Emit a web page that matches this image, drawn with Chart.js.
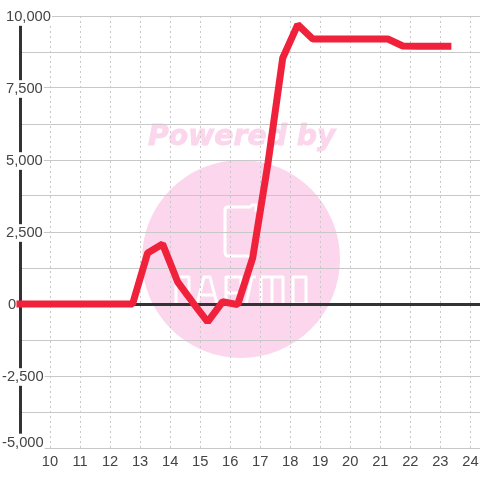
<!DOCTYPE html>
<html>
<head>
<meta charset="utf-8">
<style>
html, body { margin: 0; padding: 0; background: #fff; }
#wrap { width: 480px; height: 480px; }
canvas { display: block; }
</style>
<script src="https://cdn.jsdelivr.net/npm/chart.js@4/dist/chart.umd.min.js"></script>
</head>
<body>
<div id="wrap"><canvas id="myChart" width="480" height="480"></canvas></div>
<script>
var hours = [9, 9.75, 10.25, 10.75, 11.25, 11.75, 12.25, 12.75, 13.25, 13.75, 14.25, 14.75, 15.25, 15.75, 16.25, 16.75, 17.25, 17.75, 18.25, 18.75, 19.25, 19.75, 20.25, 20.75, 21.25, 21.75, 22.25, 22.75, 23.25];
var values = [0, 0, 0, 0, 0, 0, 0, 0, 1770, 2080, 770, 60, -620, 80, -20, 1600, 4830, 8540, 9700, 9200, 9200, 9200, 9200, 9200, 9200, 8960, 8950, 8950, 8950];
var yLabels = [10000, 7500, 5000, 2500, 0, -2500, -5000];

var points = [];
for (var i = 0; i < hours.length; i++) {
    points.push({x: hours[i], y: values[i]});
}

// pale logo behind the grid
var watermark = {
    id: 'watermark',
    beforeDraw: function(chart) {
        var c = chart.ctx;
        c.save();
        c.fillStyle = '#fbd6ec';
        c.strokeStyle = '#fbd6ec';
        c.lineWidth = 0.8;
        c.font = 'italic bold 28.3px "DejaVu Sans"';
        c.textBaseline = 'alphabetic';
        c.fillText('Powered by', 148, 145);
        c.strokeText('Powered by', 148, 145);
        c.beginPath();
        c.arc(241, 259, 99, 0, Math.PI * 2);
        c.fill();
        c.strokeStyle = '#fff';
        c.lineWidth = 3;
        c.lineJoin = 'round';
        c.beginPath();
        c.moveTo(251, 207);
        c.lineTo(228, 207);
        c.quadraticCurveTo(225, 207, 225, 210);
        c.lineTo(225, 252);
        c.quadraticCurveTo(225, 256, 228, 256);
        c.lineTo(253, 256);
        c.moveTo(251, 207);
        c.lineTo(252, 205);
        c.lineTo(256, 205);
        c.lineTo(256, 212);
        // n a p a m o
        c.moveTo(176, 304); c.lineTo(176, 277); c.lineTo(189, 277); c.lineTo(189, 304);
        c.moveTo(197, 304); c.lineTo(204, 277); c.lineTo(210, 277); c.lineTo(217, 304); c.moveTo(199, 295); c.lineTo(216, 295);
        c.moveTo(226, 304); c.lineTo(226, 277); c.lineTo(241, 277); c.lineTo(241, 293); c.lineTo(226, 293);
        c.moveTo(246, 304); c.lineTo(252, 277); c.lineTo(256, 277);
        c.moveTo(261, 304); c.lineTo(261, 277); c.lineTo(283, 277); c.lineTo(283, 304); c.moveTo(272, 277); c.lineTo(272, 304);
        c.rect(293, 277, 13, 27);
        c.stroke();
        c.restore();
    }
};

// labels share a left edge, negatives and 0 sit a little off it, the lowest one is lifted
var labelShift = {
    id: 'labelShift',
    beforeDraw: function(chart) {
        var scale = chart.scales.y;
        scale.getLabelItems(chart.chartArea).forEach(function(item) {
            var x = 6;
            if (item.label.charAt(0) === '-') x = 2;
            if (item.label === '0') x = 8;
            item.options.translation[0] = x;
            if (!item.moved) {
                item.options.translation[1] += item.label === '-5,000' ? -5.5 : 1;
                item.moved = true;
            }
        });
    }
};

var ctx = document.getElementById('myChart').getContext('2d');
new Chart(ctx, {
    type: 'line',
    data: {
        datasets: [{
            data: points,
            borderColor: '#f0213a',
            borderWidth: 7,
            borderCapStyle: 'square',
            borderJoinStyle: 'bevel',
            pointRadius: 0,
            tension: 0,
            clip: false
        }]
    },
    plugins: [watermark, labelShift],
    options: {
        responsive: false,
        animation: false,
        layout: { padding: { left: 20, top: 16, right: 0, bottom: 0 } },
        plugins: { legend: { display: false }, tooltip: { enabled: false } },
        scales: {
            x: {
                type: 'linear',
                min: 9,
                max: 24.32,
                afterFit: function(scale) {
                    scale.paddingRight = 0;
                    scale.paddingLeft = 0;
                    scale.height = 32;
                },
                border: { display: true, color: '#c8c8c8', width: 1, dash: [2, 3] },
                grid: {
                    drawTicks: false,
                    color: function(c) { return c.tick && c.tick.value === 9 ? 'rgba(0,0,0,0)' : '#c8c8c8'; },
                    lineWidth: 1
                },
                ticks: {
                    stepSize: 1,
                    includeBounds: false,
                    autoSkip: false,
                    maxRotation: 0,
                    padding: 5,
                    color: '#444',
                    font: { family: '"Liberation Sans"', size: 14.7 },
                    callback: function(v) { return v === 9 ? '' : String(v); }
                }
            },
            y: {
                min: -5000,
                max: 10000,
                afterFit: function(scale) {
                    scale.width = 0;
                    scale.paddingTop = 0;
                    scale.paddingBottom = 0;
                },
                border: { display: true, color: '#333', width: 3 },
                grid: {
                    drawTicks: false,
                    color: function(c) { return c.tick && c.tick.value === 0 ? '#333' : '#c8c8c8'; },
                    lineWidth: function(c) { return c.tick && c.tick.value === 0 ? 3 : 1; }
                },
                ticks: {
                    stepSize: 1250,
                    autoSkip: false,
                    mirror: true,
                    padding: 0,
                    color: '#444',
                    font: { family: '"Liberation Sans"', size: 14.7 },
                    showLabelBackdrop: true,
                    backdropColor: '#fff',
                    backdropPadding: { left: 4, right: 1, top: 0, bottom: 0 },
                    callback: function(v) { return yLabels.indexOf(v) >= 0 ? v.toLocaleString('en-US') : ''; }
                }
            }
        }
    }
});
</script>
</body>
</html>
